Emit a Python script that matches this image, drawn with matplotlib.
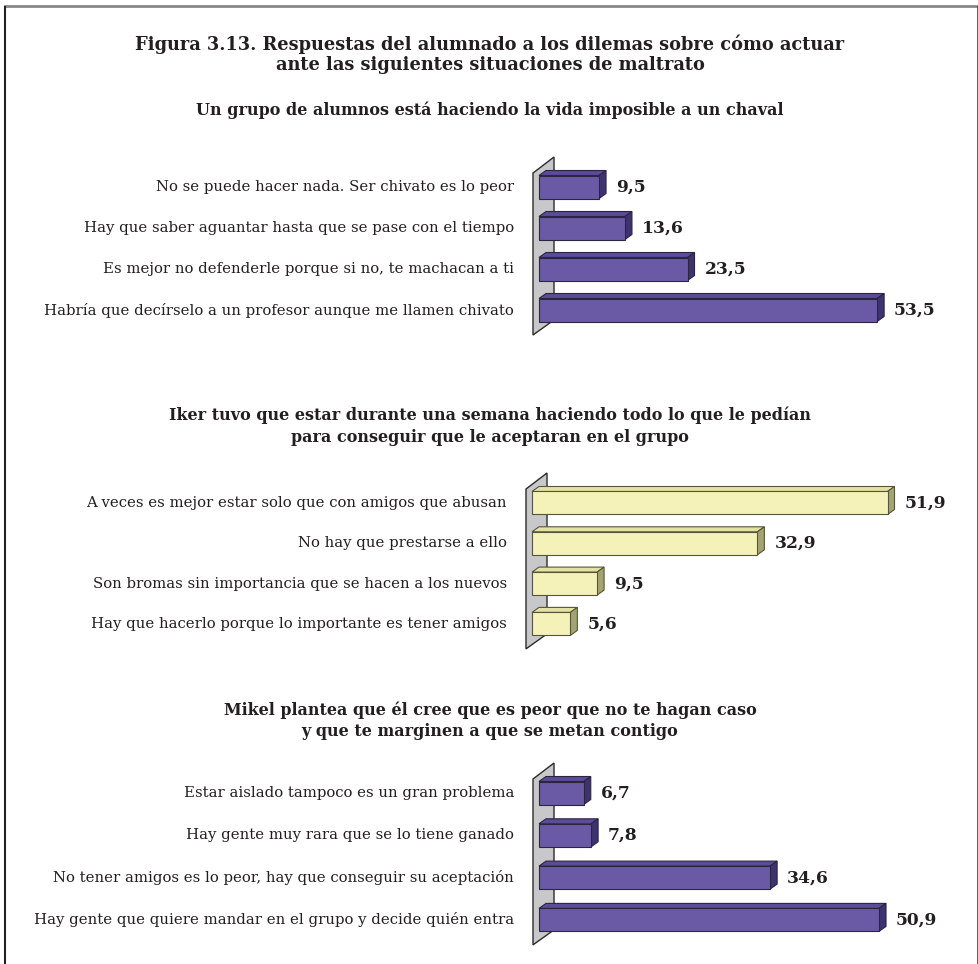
import matplotlib
matplotlib.use('Agg')
import matplotlib.pyplot as plt
from matplotlib.patches import Polygon
from matplotlib.lines import Line2D
from matplotlib.transforms import offset_copy

# textos
titulo = ['Figura 3.13. Respuestas del alumnado a los dilemas sobre cómo actuar',
          'ante las siguientes situaciones de maltrato']

sub1 = ['Un grupo de alumnos está haciendo la vida imposible a un chaval']
cat1 = ['No se puede hacer nada. Ser chivato es lo peor',
        'Hay que saber aguantar hasta que se pase con el tiempo',
        'Es mejor no defenderle porque si no, te machacan a ti',
        'Habría que decírselo a un profesor aunque me llamen chivato']
val1 = [9.5, 13.6, 23.5, 53.5]

sub2 = ['Iker tuvo que estar durante una semana haciendo todo lo que le pedían',
        'para conseguir que le aceptaran en el grupo']
cat2 = ['A veces es mejor estar solo que con amigos que abusan',
        'No hay que prestarse a ello',
        'Son bromas sin importancia que se hacen a los nuevos',
        'Hay que hacerlo porque lo importante es tener amigos']
val2 = [51.9, 32.9, 9.5, 5.6]

sub3 = ['Mikel plantea que él cree que es peor que no te hagan caso',
        'y que te marginen a que se metan contigo']
cat3 = ['Estar aislado tampoco es un gran problema',
        'Hay gente muy rara que se lo tiene ganado',
        'No tener amigos es lo peor, hay que conseguir su aceptación',
        'Hay gente que quiere mandar en el grupo y decide quién entra']
val3 = [6.7, 7.8, 34.6, 50.9]

W, H = 979, 964
TXT = '#231f20'
plt.rcParams['font.family'] = ['DejaVu Serif']

fig = plt.figure(figsize=(W / 100, H / 100), dpi=100)

MORADO = ('#6a5aa5', '#5b4b99', '#3e336e', '#2a2640')
AMARILLO = ('#f4f2b9', '#e4e2a2', '#a4a472', '#55553c')


def panel(x0, c0, sp, esc, cats, vals, colores):
    cf, ct, cl, ce = colores
    ax = fig.add_axes([(x0 - 1.5 * esc) / W, 1 - (c0 + 3.9 * sp) / H,
                       63.5 * esc / W, 4.8 * sp / H])
    ax.set_xlim(-1.5, 62)
    ax.set_ylim(3.9, -0.9)
    ax.axis('off')
    dx, dy = 7 / esc, 5 / sp
    h = 23 / sp
    # pared gris
    ax.add_patch(Polygon([(-6 / esc, -14 / sp), (15 / esc, -30 / sp),
                          (15 / esc, 3 + 10 / sp), (-6 / esc, 3 + 25 / sp)],
                         closed=True, fc='#c8c8ca', ec='#2b2b2b', lw=1))
    t_val = offset_copy(ax.transData, fig=fig, x=17, y=0, units='dots')
    t_cat = offset_copy(ax.transData, fig=fig, x=-25, y=0, units='dots')
    for i, (c, v) in enumerate(zip(cats, vals)):
        y0, y1 = i - h / 2, i + h / 2
        ax.add_patch(Polygon([(0, y0), (v, y0), (v + dx, y0 - dy), (dx, y0 - dy)],
                             fc=ct, ec=ce, lw=0.8))
        ax.add_patch(Polygon([(v, y0), (v + dx, y0 - dy), (v + dx, y1 - dy), (v, y1)],
                             fc=cl, ec=ce, lw=0.8))
        ax.barh(i, v, height=h, color=cf, edgecolor=ce, linewidth=0.8)
        ax.text(v, i, f'{v:.1f}'.replace('.', ','), transform=t_val,
                ha='left', va='center', fontsize=12.3, fontweight='bold', color=TXT)
        ax.text(0, i, c, transform=t_cat, ha='right', va='center',
                fontsize=10.75, color=TXT)
    return ax


def titulos(lineas, ys, size):
    for t, y in zip(lineas, ys):
        fig.text(490 / W, 1 - y / H, t, ha='center', va='center',
                 fontsize=size, fontweight='bold', color=TXT)


titulos(titulo, [44, 65], 12.8)
titulos(sub1, [110], 11.5)
titulos(sub2, [415, 437], 11.5)
titulos(sub3, [710, 732], 11.5)

panel(539, 187, 41, 6.32, cat1, val1, MORADO)
panel(532, 503, 40.3, 6.85, cat2, val2, AMARILLO)
panel(539, 793, 42.3, 6.68, cat3, val3, MORADO)

# marco
fig.add_artist(Line2D([5 / W, 1], [1 - 6 / H, 1 - 6 / H], color='#888888', lw=2))
fig.add_artist(Line2D([5 / W, 5 / W], [1 - 7 / H, 0], color='#222222', lw=1.5))
fig.add_artist(Line2D([978 / W, 978 / W], [1 - 7 / H, 0], color='#444444', lw=1.2))

fig.savefig('out.png', dpi=100)
